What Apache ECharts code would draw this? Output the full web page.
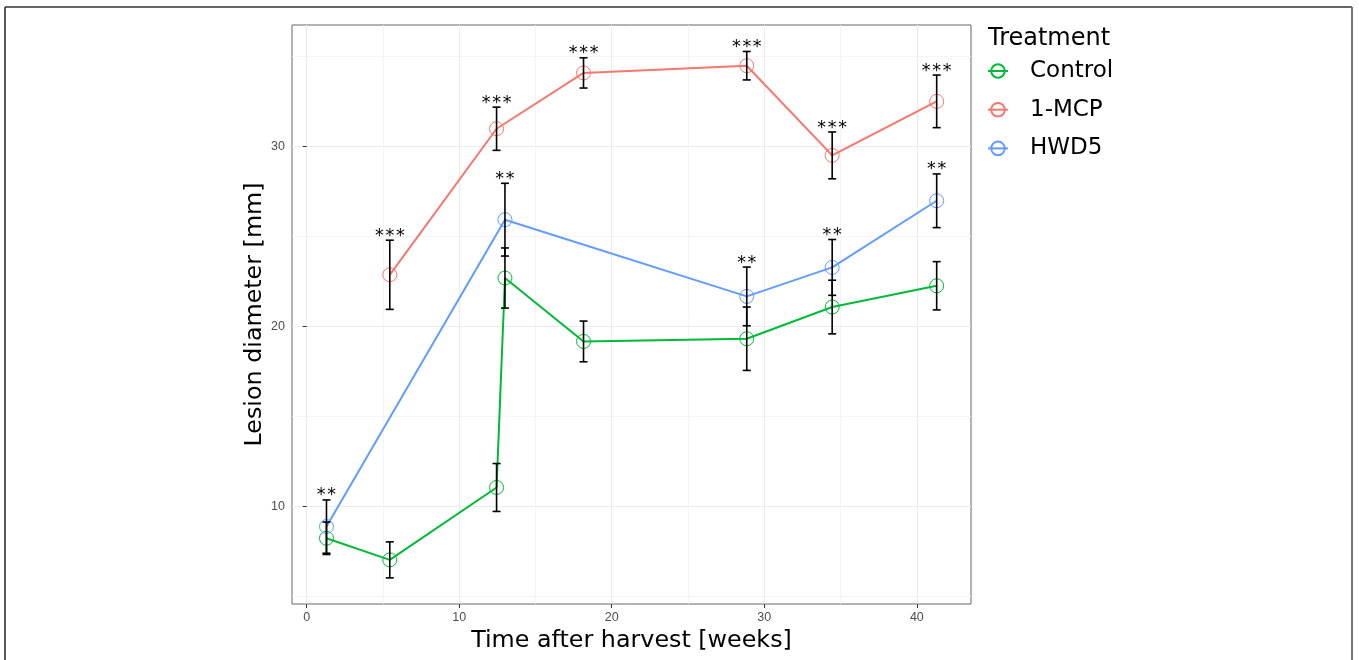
<!DOCTYPE html>
<html>
<head>
<meta charset="utf-8">
<script src="https://cdn.jsdelivr.net/npm/echarts@6/dist/echarts.min.js"></script>
<style>
  html, body { margin: 0; padding: 0; background: #fff; }
  #main { width: 1359px; height: 660px; }
</style>
</head>
<body>
<div id="main"></div>
<script>
// weeks after harvest, mean lesion diameter [mm], error bar half-width, significance mark
var controlWeeks = [1.3, 5.45, 12.45, 13.0, 18.15, 28.85, 34.45, 41.3];
var controlMean = [8.24, 7.04, 11.06, 22.69, 19.17, 19.32, 21.08, 22.26];
var controlErr = [0.9, 1.0, 1.33, 1.67, 1.13, 1.76, 1.49, 1.34];
var controlSig = ["", "", "", "", "", "", "", ""];

var mcpWeeks = [5.45, 12.45, 18.15, 28.85, 34.45, 41.3];
var mcpMean = [22.87, 30.98, 34.08, 34.48, 29.5, 32.5];
var mcpErr = [1.92, 1.2, 0.84, 0.79, 1.3, 1.46];
var mcpSig = ["***", "***", "***", "***", "***", "***"];

var hwdWeeks = [1.3, 13.0, 28.85, 34.45, 41.3];
var hwdMean = [8.89, 25.93, 21.67, 23.28, 26.98];
var hwdErr = [1.48, 2.02, 1.63, 1.55, 1.49];
var hwdSig = ["**", "**", "**", "**", "**"];

var xTicks = [0, 10, 20, 30, 40];
var yTicks = [10, 20, 30];

var green = "#00BA38", red = "#F8766D", blue = "#619CFF";

function pairs(xs, ys) {
  return xs.map(function (x, i) { return [x, ys[i]]; });
}
function errRows(xs, ys, es) {
  return xs.map(function (x, i) { return [x, ys[i] - es[i], ys[i] + es[i]]; });
}

// draws the error bar and the star label above it
function errRenderer(sig) {
  return function (params, api) {
    var x = api.value(0);
    var top = api.coord([x, api.value(2)]);
    var bot = api.coord([x, api.value(1)]);
    var cap = 4;
    var st = { stroke: "#000", lineWidth: 1.6 };
    var kids = [
      { type: "line", shape: { x1: top[0], y1: top[1], x2: bot[0], y2: bot[1] }, style: st },
      { type: "line", shape: { x1: top[0] - cap, y1: top[1], x2: top[0] + cap, y2: top[1] }, style: st },
      { type: "line", shape: { x1: bot[0] - cap, y1: bot[1], x2: bot[0] + cap, y2: bot[1] }, style: st }
    ];
    var s = sig[params.dataIndex];
    if (s) {
      kids.push({
        type: "text",
        style: {
          // small gaps between the stars, like the original
          text: s.split("").join("\u200A"), x: top[0], y: top[1] - 4,
          align: "center", verticalAlign: "middle",
          fontSize: 17.5, fontFamily: "DejaVu Sans", fill: "#000"
        }
      });
    }
    return { type: "group", children: kids };
  };
}

function lineSeries(name, xs, ys, c) {
  return {
    name: name,
    type: "line",
    data: pairs(xs, ys),
    symbol: "circle",
    symbolSize: 14,
    lineStyle: { width: 2, color: c },
    itemStyle: { color: "transparent", borderColor: c, borderWidth: 1 },
    emphasis: { disabled: true },
    z: 2
  };
}

function errSeries(name, xs, ys, es, sig) {
  return {
    name: name,
    type: "custom",
    data: errRows(xs, ys, es),
    encode: { x: 0, y: [1, 2] },
    renderItem: errRenderer(sig),
    silent: true,
    z: 3
  };
}

var myChart = echarts.init(document.getElementById("main"));

var axisName = { fontSize: 23.8, fontFamily: "DejaVu Sans", color: "#000" };
var tickLabel = { color: "#4d4d4d", fontSize: 12.5, fontFamily: "Liberation Sans" };

var option = {
  animation: false,
  color: [green, red, blue],
  title: {
    text: "Treatment",
    left: 988,
    top: 27,
    padding: 0,
    textStyle: { fontSize: 24, fontWeight: "normal", fontFamily: "DejaVu Sans", color: "#000" }
  },
  legend: {
    data: ["Control", "1-MCP", "HWD5"],
    orient: "vertical",
    left: 987,
    top: 59,
    padding: 0,
    itemWidth: 20,
    itemHeight: 17,
    itemGap: 14.7,
    selectedMode: false,
    textStyle: { fontSize: 23, fontFamily: "DejaVu Sans", color: "#000", padding: [0, 0, 0, 17], lineHeight: 24 }
  },
  grid: {
    left: 292, right: 388, top: 25, bottom: 56,
    show: true, borderColor: "#666", borderWidth: 1, backgroundColor: "#fff"
  },
  xAxis: {
    type: "value",
    min: -0.96, max: 43.55,
    splitNumber: 5,
    axisLine: { show: false },
    axisTick: { show: true, length: 4, lineStyle: { color: "#333" }, customValues: xTicks },
    axisLabel: Object.assign({ customValues: xTicks, margin: 7 }, tickLabel),
    splitLine: { lineStyle: { color: "#ebebeb", width: 1.2 } },
    minorTick: { show: false, splitNumber: 2 },
    minorSplitLine: { show: true, lineStyle: { color: "#f3f3f3", width: 0.8 } },
    name: "Time after harvest [weeks]",
    nameLocation: "middle",
    nameGap: 24,
    nameTextStyle: axisName
  },
  yAxis: {
    type: "value",
    min: 4.59, max: 36.74,
    splitNumber: 3,
    axisLine: { show: false },
    axisTick: { show: true, length: 4, lineStyle: { color: "#333" }, customValues: yTicks },
    axisLabel: Object.assign({ customValues: yTicks, margin: 7 }, tickLabel),
    splitLine: { lineStyle: { color: "#ebebeb", width: 1.2 } },
    minorTick: { show: false, splitNumber: 2 },
    minorSplitLine: { show: true, lineStyle: { color: "#f3f3f3", width: 0.8 } },
    name: "Lesion diameter [mm]",
    nameLocation: "middle",
    nameGap: 24,
    nameRotate: 90,
    nameTextStyle: axisName
  },
  graphic: [
    { type: "line", shape: { x1: 5, y1: 7, x2: 5, y2: 660 }, style: { stroke: "#222", lineWidth: 1.5 } },
    { type: "line", shape: { x1: 5, y1: 7, x2: 1352, y2: 7 }, style: { stroke: "#333", lineWidth: 1.3 } },
    { type: "line", shape: { x1: 1352, y1: 7, x2: 1352, y2: 660 }, style: { stroke: "#777", lineWidth: 2 } }
  ],
  series: [
    lineSeries("Control", controlWeeks, controlMean, green),
    lineSeries("1-MCP", mcpWeeks, mcpMean, red),
    lineSeries("HWD5", hwdWeeks, hwdMean, blue),
    errSeries("Control err", controlWeeks, controlMean, controlErr, controlSig),
    errSeries("1-MCP err", mcpWeeks, mcpMean, mcpErr, mcpSig),
    errSeries("HWD5 err", hwdWeeks, hwdMean, hwdErr, hwdSig)
  ]
};

myChart.setOption(option);
</script>
</body>
</html>
